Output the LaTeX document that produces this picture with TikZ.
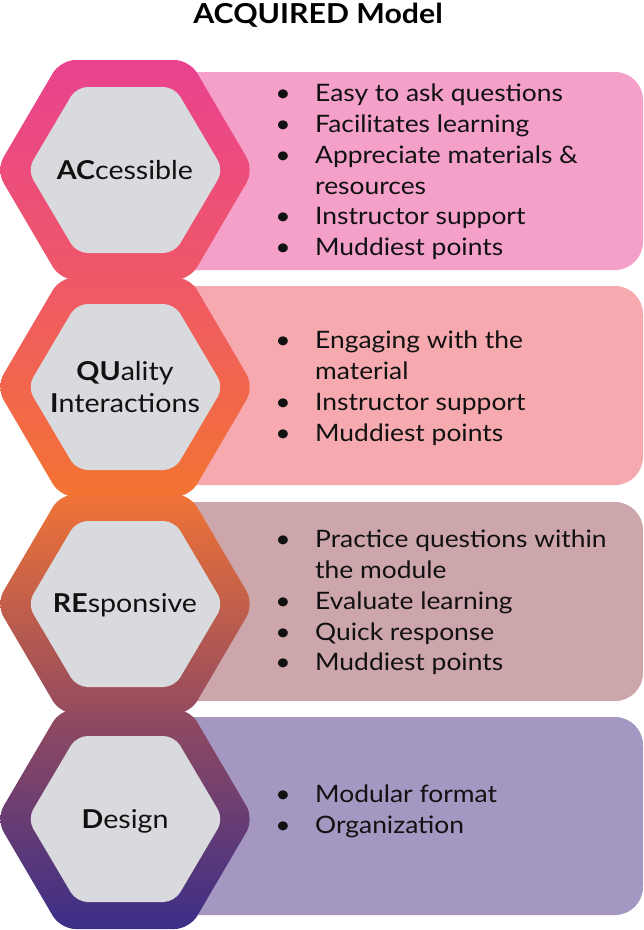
\documentclass[tikz,border=0pt]{standalone}
\usepackage{fontspec}
\setmainfont{Lato}[FakeStretch=1.1]
\definecolor{txt}{HTML}{111111}
\definecolor{rA}{HTML}{F4A0C9}
\definecolor{rB}{HTML}{F6AAB0}
\definecolor{rC}{HTML}{CDA6AB}
\definecolor{rD}{HTML}{A497C1}
\definecolor{inner}{HTML}{D9DADD}
\definecolor{gA}{HTML}{E9428F}
\definecolor{gB}{HTML}{EF5868}
\definecolor{gC}{HTML}{F37432}
\definecolor{gCC}{HTML}{F07336}
\definecolor{gD}{HTML}{944B5F}
\definecolor{gE}{HTML}{3C2E87}
\tikzset{
  panel/.style={rounded corners=28pt},
  bul/.style={anchor=base,inner sep=0pt,text=txt,font=\fontsize{24}{30}\selectfont},
  item/.style={anchor=base west,inner sep=0pt,text=txt,font=\fontsize{24}{30}\selectfont},
  hexlabel/.style={anchor=base,inner sep=0pt,text=txt,font=\fontsize{26}{30}\selectfont},
}
\begin{document}
\begin{tikzpicture}[x=1pt,y=-1pt]
\useasboundingbox (0,0) rectangle (644,930);
% panels
\fill[rA,panel] (150,72) rectangle (643,270);
\fill[rB,panel] (150,286) rectangle (643,485);
\fill[rC,panel] (150,502) rectangle (643,701);
\fill[rD,panel] (150,717) rectangle (643,915);
% hexagons
\shade[top color=gA,bottom color=gB,rounded corners=15pt] (125-129,170) -- (125-64.5,170-110) -- (125+64.5,170-110) -- (125+129,170) -- (125+64.5,170+110) -- (125-64.5,170+110) -- cycle;
\shade[top color=gB,bottom color=gC,rounded corners=15pt] (125-129,387) -- (125-64.5,387-110) -- (125+64.5,387-110) -- (125+129,387) -- (125+64.5,387+110) -- (125-64.5,387+110) -- cycle;
\shade[top color=gCC,bottom color=gD,rounded corners=15pt] (125-129,604) -- (125-64.5,604-110) -- (125+64.5,604-110) -- (125+129,604) -- (125+64.5,604+110) -- (125-64.5,604+110) -- cycle;
\shade[top color=gD,bottom color=gE,rounded corners=15pt] (125-129,819) -- (125-64.5,819-110) -- (125+64.5,819-110) -- (125+129,819) -- (125+64.5,819+110) -- (125-64.5,819+110) -- cycle;
\foreach \cy in {170,387,604,819}{
  \fill[inner,rounded corners=11pt] (125.5-98,\cy) -- (125.5-49,\cy-83) -- (125.5+49,\cy-83) -- (125.5+98,\cy) -- (125.5+49,\cy+83) -- (125.5-49,\cy+83) -- cycle;
}
% title
\node[anchor=base,inner sep=0pt,text=black,font=\fontsize{27.5}{30}\selectfont\bfseries] (title) at (318,23) {ACQUIRED Model};
% hex labels
\node[hexlabel] (hA) at (125,179) {\textbf{AC}cessible};
\node[hexlabel] (hB1) at (125,380) {\textbf{QU}ality};
\node[hexlabel] (hB2) at (125,412) {\textbf{I}nteractions};
\node[hexlabel] (hC) at (125,612) {\textbf{RE}sponsive};
\node[hexlabel] (hD) at (125,828) {\textbf{D}esign};
% list 1
\node[bul] (b11) at (283,101) {•}; \node[item] (t11) at (315,101) {Easy to ask questions};
\node[bul] (b12) at (283,132) {•}; \node[item] (t12) at (315,132) {Facilitates learning};
\node[bul] (b13) at (283,163) {•}; \node[item] (t13) at (315,163) {Appreciate materials \&};
\node[item] (t13b) at (315,194) {resources};
\node[bul] (b14) at (283,224) {•}; \node[item] (t14) at (315,224) {Instructor support};
\node[bul] (b15) at (283,255) {•}; \node[item] (t15) at (315,255) {Muddiest points};
% list 2
\node[bul] (b21) at (283,348) {•}; \node[item] (t21) at (315,348) {Engaging with the};
\node[item] (t21b) at (315,379) {material};
\node[bul] (b22) at (283,410) {•}; \node[item] (t22) at (315,410) {Instructor support};
\node[bul] (b23) at (283,441) {•}; \node[item] (t23) at (315,441) {Muddiest points};
% list 3
\node[bul] (b31) at (283,547) {•}; \node[item] (t31) at (315,547) {Practice questions within};
\node[item] (t31b) at (315,578) {the module};
\node[bul] (b32) at (283,609) {•}; \node[item] (t32) at (315,609) {Evaluate learning};
\node[bul] (b33) at (283,640) {•}; \node[item] (t33) at (315,640) {Quick response};
\node[bul] (b34) at (283,670) {•}; \node[item] (t34) at (315,670) {Muddiest points};
% list 4
\node[bul] (b41) at (283,802) {•}; \node[item] (t41) at (315,802) {Modular format};
\node[bul] (b42) at (283,833) {•}; \node[item] (t42) at (315,833) {Organization};
\end{tikzpicture}
\end{document}
